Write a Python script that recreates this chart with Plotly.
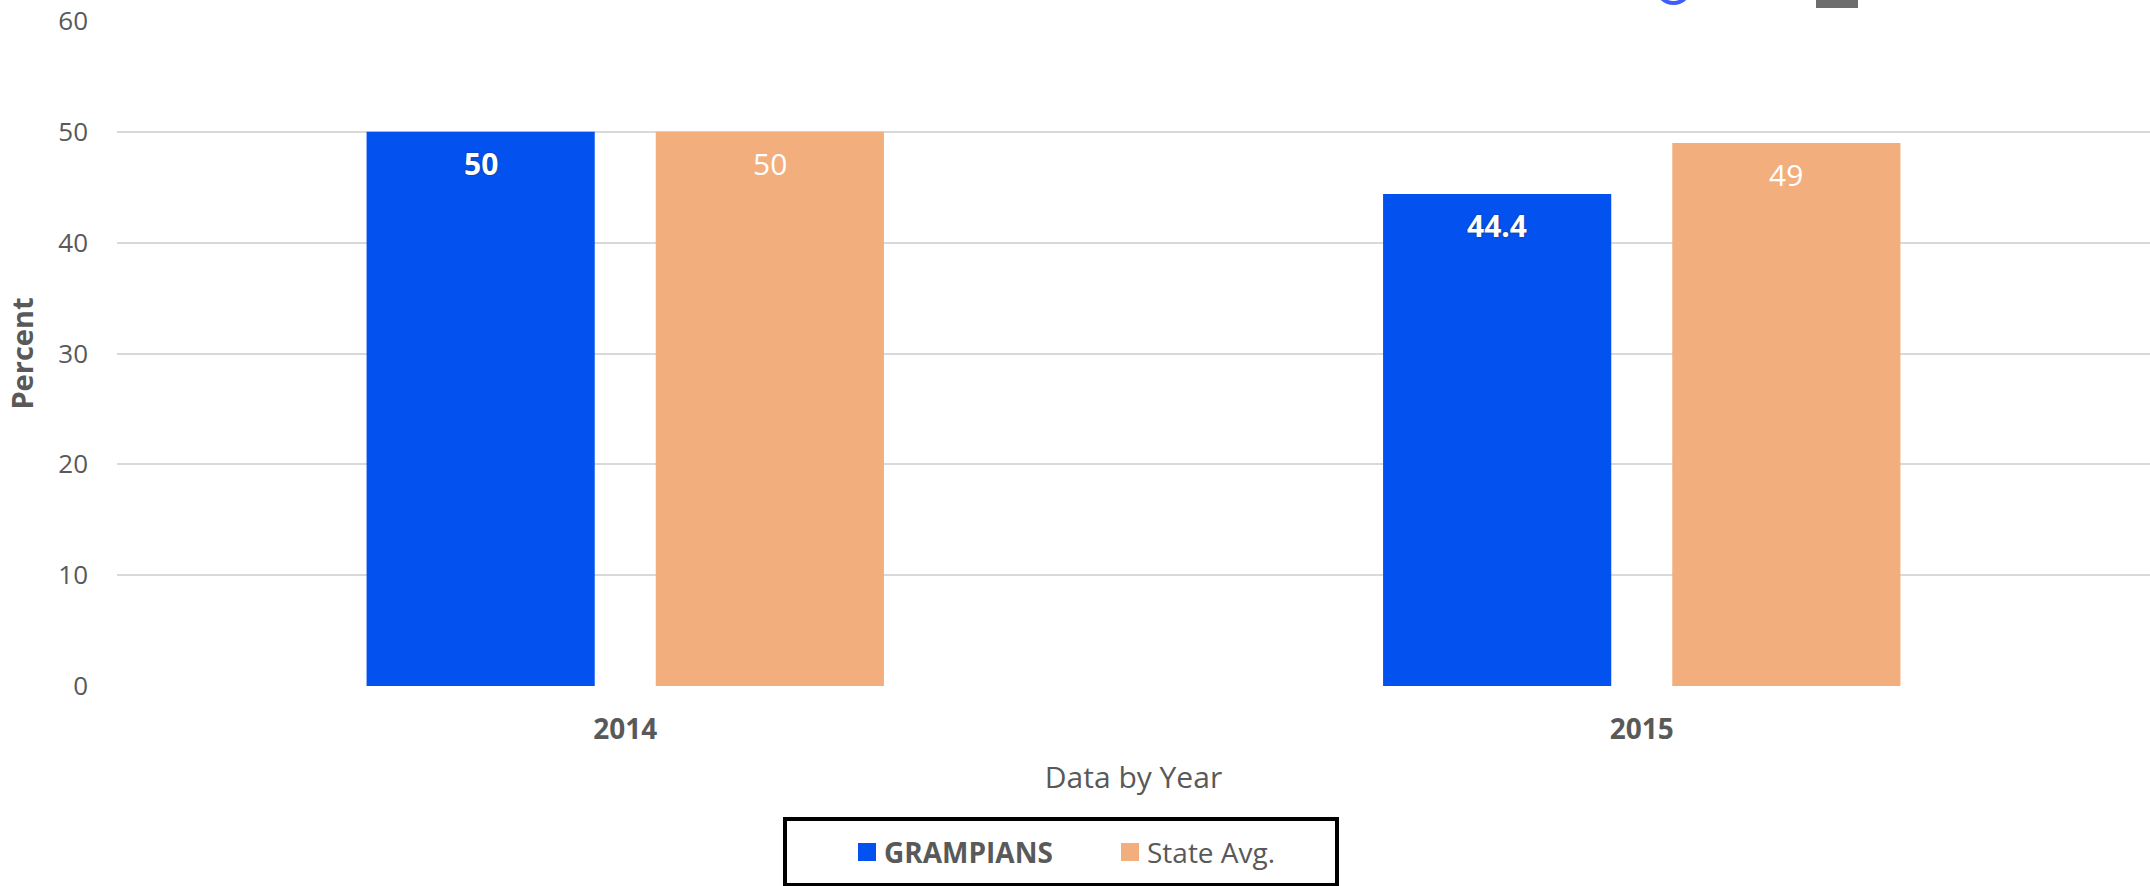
import plotly.graph_objects as go

# ---- data ----
years = ["2014", "2015"]
grampians = [50, 44.4]
state_avg = [50, 49]
series_names = ["GRAMPIANS", "State Avg."]
series_colors = ["#0352EF", "#F3AE7E"]
y_ticks = [0, 10, 20, 30, 40, 50, 60]

# ---- layout constants (pixels) ----
W, H = 2150, 886
ML, MR, MT, MB = 117, 0, 21, 200
PW, PH = W - ML - MR, H - MT - MB
FONT = "Open Sans"
GRAY = "#595959"
BARGAP = 0.431
BARGROUPGAP = 0.211


def px(x):
    return (x - ML) / PW


def py(y):
    return (H - MB - y) / PH


fig = go.Figure()
fig.add_trace(go.Bar(x=years, y=grampians, name=series_names[0],
                     marker=dict(color=series_colors[0], line=dict(width=0)),
                     showlegend=False, hoverinfo="x+y"))
fig.add_trace(go.Bar(x=years, y=state_avg, name=series_names[1],
                     marker=dict(color=series_colors[1], line=dict(width=0)),
                     showlegend=False, hoverinfo="x+y"))

annotations = []
# data labels near top inside bars
off = (1 - BARGAP) / 4
for i, (a, b) in enumerate(zip(grampians, state_avg)):
    annotations.append(dict(x=i - off, y=a, xref="x", yref="y", text=f"<b>{a:g}</b>",
                            showarrow=False, yshift=-32, yanchor="middle",
                            font=dict(family=FONT, size=30, color="white",
                                      shadow="0px 0px 2px rgba(40,40,40,0.8)")))
    annotations.append(dict(x=i + off, y=b, xref="x", yref="y", text=f"{b:g}",
                            showarrow=False, yshift=-32, yanchor="middle",
                            font=dict(family=FONT, size=30, color="white")))

# manual legend
shapes = [
    dict(type="rect", xref="paper", yref="paper", x0=px(785), x1=px(1337), y0=py(819), y1=py(885),
         line=dict(color="black", width=4), fillcolor="white", layer="above"),
    dict(type="rect", xref="paper", yref="paper", x0=px(858), x1=px(876), y0=py(843), y1=py(861),
         line=dict(width=0), fillcolor=series_colors[0], layer="above"),
    dict(type="rect", xref="paper", yref="paper", x0=px(1121), x1=px(1139), y0=py(843), y1=py(861),
         line=dict(width=0), fillcolor=series_colors[1], layer="above"),
    # cut-off icons at the top
    dict(type="circle", xref="paper", yref="paper", x0=px(1657), x1=px(1690), y0=py(-29), y1=py(3),
         line=dict(color="#3D5BFF", width=4), fillcolor="rgba(0,0,0,0)", layer="above"),
    dict(type="rect", xref="paper", yref="paper", x0=px(1816), x1=px(1858), y0=py(-5), y1=py(8),
         line=dict(width=0), fillcolor="#6D6D6D", layer="above"),
]
annotations.append(dict(x=px(882), y=py(852), xref="paper", yref="paper", xanchor="left",
                        yanchor="middle", showarrow=False, text=f"<b>{series_names[0]}</b>",
                        font=dict(family=FONT, size=28, color=GRAY)))
annotations.append(dict(x=px(1145), y=py(852), xref="paper", yref="paper", xanchor="left",
                        yanchor="middle", showarrow=False, text=series_names[1],
                        font=dict(family=FONT, size=28, color=GRAY)))

fig.update_layout(
    width=W, height=H,
    margin=dict(l=ML, r=MR, t=MT, b=MB, autoexpand=False),
    paper_bgcolor="white", plot_bgcolor="white",
    barmode="group", bargap=BARGAP, bargroupgap=BARGROUPGAP,
    showlegend=False,
    font=dict(family=FONT, color=GRAY),
    shapes=shapes, annotations=annotations,
    xaxis=dict(type="category", range=[-0.5, 1.5], showgrid=False, zeroline=False,
               showline=False, ticks="", ticklabelstandoff=24,
               tickfont=dict(family=FONT, size=28, color=GRAY, weight="bold"),
               title=dict(text="Data by Year", standoff=20,
                          font=dict(family=FONT, size=30, color=GRAY))),
    yaxis=dict(range=[0, 60], tickvals=y_ticks, showgrid=True, gridcolor="#D9D9D9", gridwidth=2,
               zeroline=False, showline=False, ticks="", ticklabelstandoff=28,
               tickfont=dict(family=FONT, size=26, color=GRAY),
               title=dict(text="<b>Percent</b>", standoff=16,
                          font=dict(family=FONT, size=29, color=GRAY))),
)

fig.write_html("out.html", config={"displayModeBar": False},
               post_script="document.body.style.margin='0';document.body.style.overflow='hidden';")
